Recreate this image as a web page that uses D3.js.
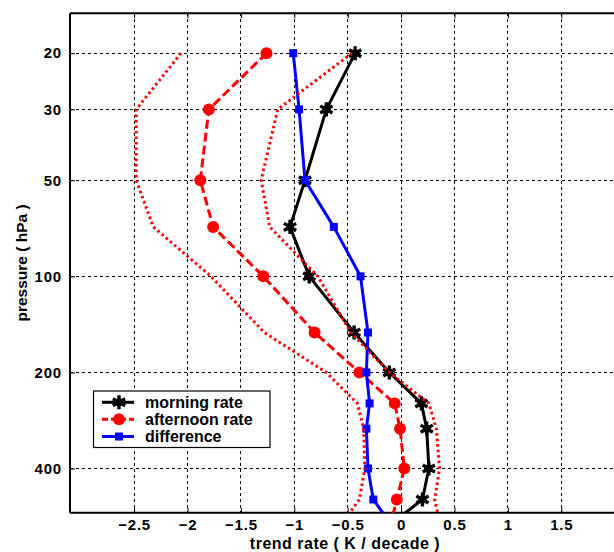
<!DOCTYPE html>
<html>
<head>
<meta charset="utf-8">
<script src="https://cdn.jsdelivr.net/npm/d3@7"></script>
<style>
  html, body { margin: 0; padding: 0; background: #fff; }
  svg { display: block; }
  text { font-family: "Liberation Sans", Arial, Helvetica, sans-serif; font-weight: bold; fill: #000; }
</style>
</head>
<body>
<svg id="chart" width="614" height="552"></svg>
<script>
// ---- data ----
const pressure   = [20, 30, 50, 70, 100, 150, 200, 250, 300, 400, 500, 700];
const morning    = [-0.43, -0.70, -0.90, -1.04, -0.86, -0.44, -0.11, 0.19, 0.24, 0.26, 0.20, -0.36];
const afternoon  = [-1.26, -1.80, -1.88, -1.76, -1.29, -0.81, -0.39, -0.06, -0.01, 0.03, -0.04, -0.15];
const difference = [-1.01, -0.955, -0.90, -0.63, -0.38, -0.31, -0.325, -0.295, -0.325, -0.31, -0.26, 0.05];
const lowerBound = [-2.06, -2.48, -2.48, -2.32, -1.78, -1.28, -0.70, -0.41, -0.35, -0.34, -0.39, -0.71];
const upperBound = [-0.46, -1.155, -1.31, -1.23, -0.78, -0.47, -0.11, 0.26, 0.33, 0.36, 0.315, 0.41];

const xTicks = [-2.5, -2, -1.5, -1, -0.5, 0, 0.5, 1, 1.5];
const yTicks = [20, 30, 50, 100, 200, 400];
const xDomain = [-3.1, 2.0];
const yDomain = [15, 550];
const legendLabels = ["morning rate", "afternoon rate", "difference"];
const xLabel = "trend rate  ( K / decade )";
const yLabel = "pressure  ( hPa )";

// ---- layout ----
const svg = d3.select("#chart");
const L = 70, R = 614.7, T = 13.3, B = 512.7;

const x = d3.scaleLinear().domain(xDomain).range([L, R]);
const y = d3.scaleLog().domain(yDomain).range([T, B]);

svg.append("defs").append("clipPath").attr("id", "plotclip")
  .append("rect").attr("x", L).attr("y", T).attr("width", R - L).attr("height", B - T);

// grid
const grid = svg.append("g");
grid.selectAll(".gx").data(xTicks).join("line")
  .attr("x1", d => x(d)).attr("x2", d => x(d)).attr("y1", T).attr("y2", B)
  .attr("stroke", "#000").attr("stroke-width", 1).attr("stroke-dasharray", "3,3")
  .attr("shape-rendering", "crispEdges");
grid.selectAll(".gy").data(yTicks).join("line")
  .attr("x1", L).attr("x2", R).attr("y1", d => y(d)).attr("y2", d => y(d))
  .attr("stroke", "#000").attr("stroke-width", 1).attr("stroke-dasharray", "3,3")
  .attr("shape-rendering", "crispEdges");

// axes (inward ticks)
const fmt = d => (d < 0 ? "\u2212" : "") + Math.abs(d);
const xAxisB = d3.axisBottom(x).tickValues(xTicks).tickSize(-5).tickPadding(7).tickFormat(fmt);
const xAxisT = d3.axisTop(x).tickValues(xTicks).tickSize(-5).tickFormat("");
const yAxisL = d3.axisLeft(y).tickValues(yTicks).tickSize(-5).tickPadding(8).tickFormat(d3.format("d"));

function styleAxis(g) {
  g.select(".domain").attr("stroke", "#000").attr("stroke-width", 2);
  g.selectAll(".tick line").attr("stroke", "#000").attr("stroke-width", 1);
  g.selectAll(".tick text").style("font-size", "15px").style("font-weight", "bold")
    .style("letter-spacing", "0.8px")
    .style("font-family", "'Liberation Sans', Arial, sans-serif").attr("fill", "#000");
}
svg.append("g").attr("transform", `translate(0,${B})`).call(xAxisB).call(styleAxis)
  .call(g => g.select(".domain").attr("d", `M${L},0H${R}`));
svg.append("g").attr("transform", `translate(0,${T})`).call(xAxisT).call(styleAxis)
  .call(g => g.select(".domain").attr("d", `M${L},0H${R}`));
svg.append("g").attr("transform", `translate(${L},0)`).call(yAxisL).call(styleAxis)
  .call(g => g.select(".domain").attr("d", `M0,${T}V${B}`));

// axis labels
svg.append("text").attr("x", 345).attr("y", 549).attr("text-anchor", "middle")
  .style("font-size", "16px").style("letter-spacing", "0.5px").text(xLabel);
svg.append("text").attr("transform", "translate(27,263) rotate(-90)").attr("text-anchor", "middle")
  .style("font-size", "15.5px").text(yLabel);

// series
const plot = svg.append("g").attr("clip-path", "url(#plotclip)");
const lineGen = d3.line().x(d => x(d[0])).y(d => y(d[1]));
const pts = vals => vals.map((v, i) => [v, pressure[i]]);

const series = [
  { vals: morning, color: "#000", width: 3, dash: null, marker: "asterisk" },
  { vals: afternoon, color: "#ff0000", width: 3, dash: "9,4", marker: "circle" },
  { vals: difference, color: "#0000ff", width: 3, dash: null, marker: "square" }
];

function drawMarker(g, type, color, cx, cy) {
  if (type === "asterisk") {
    g.append("path").attr("transform", `translate(${cx},${cy})`)
      .attr("d", d3.symbol().type(d3.symbolAsterisk).size(140)())
      .attr("fill", "none").attr("stroke", color).attr("stroke-width", 3.4);
    g.append("circle").attr("cx", cx).attr("cy", cy).attr("r", 4).attr("fill", color);
  } else if (type === "circle") {
    g.append("circle").attr("cx", cx).attr("cy", cy).attr("r", 6).attr("fill", color);
  } else {
    g.append("rect").attr("x", cx - 4).attr("y", cy - 4).attr("width", 8).attr("height", 8).attr("fill", color);
  }
}

series.forEach(s => {
  plot.append("path").datum(pts(s.vals)).attr("d", lineGen)
    .attr("fill", "none").attr("stroke", s.color).attr("stroke-width", s.width)
    .attr("stroke-dasharray", s.dash).attr("stroke-linejoin", "round");
  const mg = plot.append("g");
  pts(s.vals).forEach(p => drawMarker(mg, s.marker, s.color, x(p[0]), y(p[1])));
});

[lowerBound, upperBound].forEach(vals => {
  plot.append("path").datum(pts(vals)).attr("d", lineGen)
    .attr("fill", "none").attr("stroke", "#ff0000").attr("stroke-width", 3)
    .attr("stroke-dasharray", "2.5,3");
});

// legend
const lg = svg.append("g");
lg.append("rect").attr("x", 93.5).attr("y", 391).attr("width", 176.5).attr("height", 56.5)
  .attr("fill", "#fff").attr("stroke", "#000").attr("stroke-width", 1.2);
const rowsY = [402.3, 419.3, 436.5];
series.forEach((s, i) => {
  lg.append("line").attr("x1", 102).attr("x2", 134).attr("y1", rowsY[i]).attr("y2", rowsY[i])
    .attr("stroke", s.color).attr("stroke-width", s.width).attr("stroke-dasharray", s.dash ? "6,3" : null);
  drawMarker(lg, s.marker, s.color, 119, rowsY[i]);
  lg.append("text").attr("x", 145).attr("y", rowsY[i] + 5.5).style("font-size", "16px").text(legendLabels[i]);
});
</script>
</body>
</html>
